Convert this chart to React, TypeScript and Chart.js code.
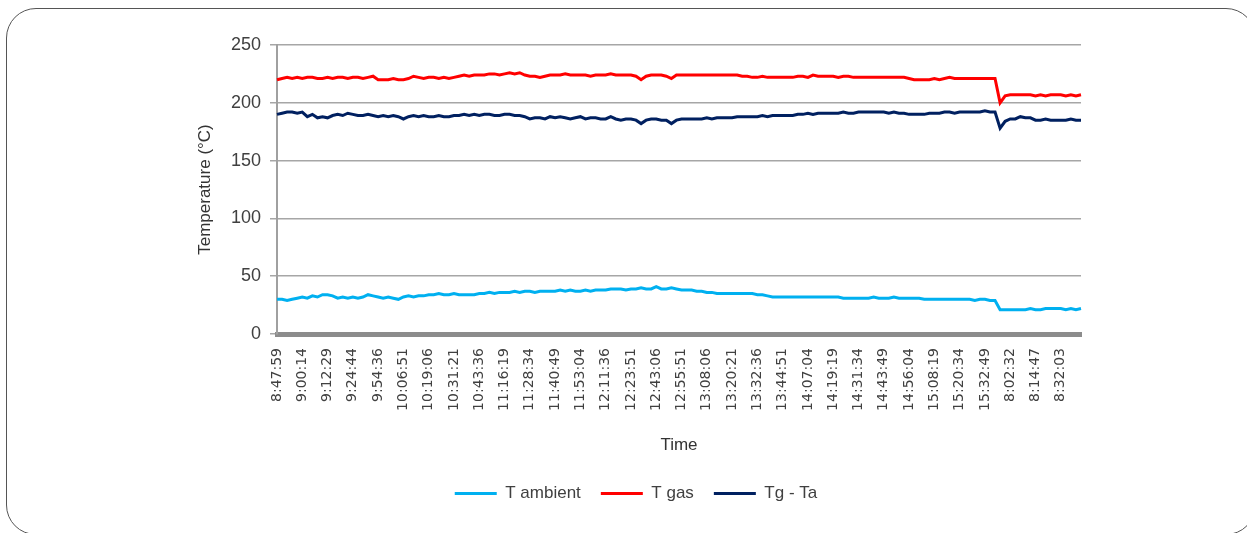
import React, { useEffect, useRef } from 'react';
import { Chart, registerables } from 'chart.js';

Chart.register(...registerables);

// Tick labels shown on the time axis (one every 5 samples)
const tickLabels = [
  '8:47:59', '9:00:14', '9:12:29', '9:24:44', '9:54:36', '10:06:51', '10:19:06', '10:31:21',
  '10:43:36', '11:16:19', '11:28:34', '11:40:49', '11:53:04', '12:11:36', '12:23:51', '12:43:06',
  '12:55:51', '13:08:06', '13:20:21', '13:32:36', '13:44:51', '14:07:04', '14:19:19', '14:31:34',
  '14:43:49', '14:56:04', '15:08:19', '15:20:34', '15:32:49', '8:02:32', '8:14:47', '8:32:03',
];
const SAMPLES_PER_TICK = 5;

// T ambient (°C)
const tAmbient = [
  30, 30, 29, 30, 31, 32, 31, 33, 32, 34,
  34, 33, 31, 32, 31, 32, 31, 32, 34, 33,
  32, 31, 32, 31, 30, 32, 33, 32, 33, 33,
  34, 34, 35, 34, 34, 35, 34, 34, 34, 34,
  35, 35, 36, 35, 36, 36, 36, 37, 36, 37,
  37, 36, 37, 37, 37, 37, 38, 37, 38, 37,
  37, 38, 37, 38, 38, 38, 39, 39, 39, 38,
  39, 39, 40, 39, 39, 41, 39, 39, 40, 39,
  38, 38, 38, 37, 37, 36, 36, 35, 35, 35,
  35, 35, 35, 35, 35, 34, 34, 33, 32, 32,
  32, 32, 32, 32, 32, 32, 32, 32, 32, 32,
  32, 32, 31, 31, 31, 31, 31, 31, 32, 31,
  31, 31, 32, 31, 31, 31, 31, 31, 30, 30,
  30, 30, 30, 30, 30, 30, 30, 30, 29, 30,
  30, 29, 29, 21, 21, 21, 21, 21, 21, 22,
  21, 21, 22, 22, 22, 22, 21, 22, 21, 22,
];

// T gas (°C)
const tGas = [
  220, 221, 222, 221, 222, 221, 222, 222, 221, 221,
  222, 221, 222, 222, 221, 222, 222, 221, 222, 223,
  220, 220, 220, 221, 220, 220, 221, 223, 222, 221,
  222, 222, 221, 222, 221, 222, 223, 224, 223, 224,
  224, 224, 225, 225, 224, 225, 226, 225, 226, 224,
  223, 223, 222, 223, 224, 224, 224, 225, 224, 224,
  224, 224, 223, 224, 224, 224, 225, 224, 224, 224,
  224, 223, 220, 223, 224, 224, 224, 223, 221, 224,
  224, 224, 224, 224, 224, 224, 224, 224, 224, 224,
  224, 224, 223, 223, 222, 222, 223, 222, 222, 222,
  222, 222, 222, 223, 223, 222, 224, 223, 223, 223,
  223, 222, 223, 223, 222, 222, 222, 222, 222, 222,
  222, 222, 222, 222, 222, 221, 220, 220, 220, 220,
  221, 220, 221, 222, 221, 221, 221, 221, 221, 221,
  221, 221, 221, 200, 206, 207, 207, 207, 207, 207,
  206, 207, 206, 207, 207, 207, 206, 207, 206, 207,
];

// Tg - Ta (°C)
const tDiff = [
  190, 191, 192, 192, 191, 192, 188, 190, 187, 188,
  187, 189, 190, 189, 191, 190, 189, 189, 190, 189,
  188, 189, 188, 189, 188, 186, 188, 189, 188, 189,
  188, 188, 189, 188, 188, 189, 189, 190, 189, 190,
  189, 190, 190, 189, 189, 190, 190, 189, 189, 188,
  186, 187, 187, 186, 188, 187, 188, 187, 186, 187,
  188, 186, 187, 187, 186, 186, 188, 186, 185, 186,
  186, 185, 182, 185, 186, 186, 185, 185, 182, 185,
  186, 186, 186, 186, 186, 187, 186, 187, 187, 187,
  187, 188, 188, 188, 188, 188, 189, 188, 189, 189,
  189, 189, 189, 190, 190, 191, 190, 191, 191, 191,
  191, 191, 192, 191, 191, 192, 192, 192, 192, 192,
  192, 191, 192, 191, 191, 190, 190, 190, 190, 191,
  191, 191, 192, 192, 191, 192, 192, 192, 192, 192,
  193, 192, 192, 178, 184, 186, 186, 188, 187, 187,
  185, 185, 186, 185, 185, 185, 185, 186, 185, 185,
];

const categories = tAmbient.map((_, i) =>
  i % SAMPLES_PER_TICK === 0 ? tickLabels[i / SAMPLES_PER_TICK] ?? '' : ''
);

const seriesNames = ['T ambient', 'T gas', 'Tg - Ta'];
const seriesColors = ['#00B0F0', '#FF0000', '#002060'];

export default function App() {
  const ref = useRef<HTMLCanvasElement>(null);

  useEffect(() => {
    if (!ref.current) return;
    const values = [tAmbient, tGas, tDiff];
    const chart = new Chart(ref.current, {
      type: 'line',
      data: {
        labels: categories,
        datasets: values.map((d, k) => ({
          label: seriesNames[k],
          data: d,
          borderColor: seriesColors[k],
          backgroundColor: seriesColors[k],
          borderWidth: 3,
          pointRadius: 0,
          tension: 0,
          fill: false,
        })),
      },
      options: {
        responsive: false,
        animation: false,
        layout: { padding: { left: 191, right: 166, top: 45, bottom: 21 } },
        plugins: {
          tooltip: { enabled: false },
          legend: {
            position: 'bottom',
            labels: {
              usePointStyle: true,
              pointStyle: 'line',
              pointStyleWidth: 42,
              padding: 20,
              color: '#404040',
              font: { family: 'Liberation Sans', size: 17 },
            },
          },
        },
        scales: {
          x: {
            type: 'category',
            offset: false,
            grid: { display: false, drawTicks: false },
            border: { display: true, color: '#8c8c8c', width: 5 },
            ticks: {
              autoSkip: false,
              maxRotation: 90,
              minRotation: 90,
              padding: 14,
              color: '#404040',
              font: { family: 'DejaVu Sans', size: 14 },
            },
            title: {
              display: true,
              text: 'Time',
              color: '#333333',
              font: { family: 'Liberation Sans', size: 17 },
              padding: { top: 0, bottom: 9 },
            },
            afterFit: (s: any) => {
              s.height = 131;
            },
          },
          y: {
            min: 0,
            max: 250,
            grid: { color: '#a6a6a6', lineWidth: 1.5, tickLength: 7, drawTicks: true },
            border: { display: true, color: '#a0a0a0', width: 2 },
            ticks: {
              stepSize: 50,
              padding: 9,
              color: '#404040',
              font: { family: 'Liberation Sans', size: 18 },
            },
            title: {
              display: true,
              text: 'Temperature (°C)',
              color: '#333333',
              font: { family: 'Liberation Sans', size: 17 },
              padding: { top: 4, bottom: 4 },
            },
            afterFit: (s: any) => {
              s.width = 86;
            },
          },
        },
      },
    });
    return () => chart.destroy();
  }, []);

  return (
    <div
      style={{
        position: 'fixed',
        left: 0,
        top: 0,
        width: 1247,
        height: 533,
        overflow: 'hidden',
        background: '#ffffff',
      }}
    >
      <div
        style={{
          position: 'absolute',
          left: 6,
          top: 8,
          width: 1250,
          height: 527,
          border: '1.5px solid #555555',
          borderRadius: 30,
          boxSizing: 'border-box',
        }}
      />
      <canvas
        ref={ref}
        width={1247}
        height={533}
        style={{ position: 'absolute', left: 0, top: 0, width: 1247, height: 533 }}
      />
    </div>
  );
}
